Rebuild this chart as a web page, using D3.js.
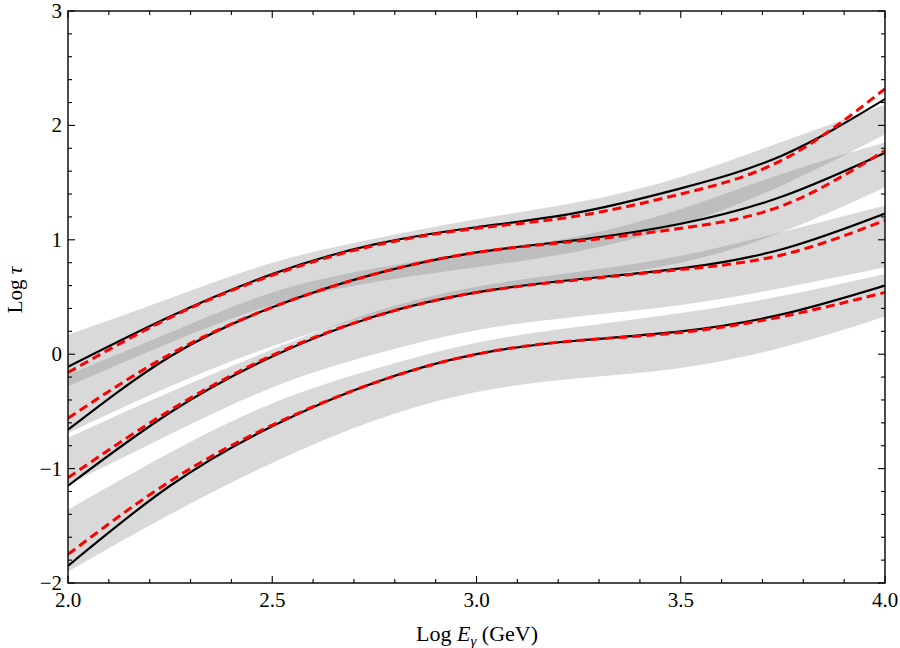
<!DOCTYPE html>
<html>
<head>
<meta charset="utf-8">
<script src="https://cdn.jsdelivr.net/npm/d3@7"></script>
<style>
  html, body { margin: 0; padding: 0; background: #fff; }
  svg { display: block; }
  text { font-family: "Liberation Serif", "DejaVu Serif", serif; fill: #000; }
</style>
</head>
<body>
<svg id="chart" width="900" height="648"></svg>
<script>
// ---- data ----
const logE = [2.0, 2.25, 2.5, 2.75, 3.0, 3.25, 3.5, 3.75, 4.0];

// solid black curves
const solidA = [-0.11, 0.33, 0.70, 0.96, 1.11, 1.24, 1.45, 1.74, 2.23];
const solidB = [-0.66, -0.02, 0.41, 0.70, 0.89, 1.00, 1.14, 1.38, 1.76];
const solidC = [-1.15, -0.51, -0.02, 0.33, 0.54, 0.655, 0.75, 0.92, 1.23];
const solidD = [-1.85, -1.15, -0.63, -0.25, 0.00, 0.12, 0.20, 0.35, 0.60];

// red dashed curves
const dashA = [-0.16, 0.32, 0.69, 0.95, 1.10, 1.21, 1.40, 1.70, 2.32];
const dashB = [-0.56, 0.00, 0.41, 0.70, 0.89, 0.99, 1.10, 1.30, 1.78];
const dashC = [-1.08, -0.49, -0.01, 0.33, 0.54, 0.65, 0.74, 0.87, 1.17];
const dashD = [-1.75, -1.11, -0.62, -0.25, 0.00, 0.12, 0.19, 0.33, 0.54];

// grey bands (upper / lower edges)
const bandAUpper = [0.17, 0.49, 0.80, 1.01, 1.18, 1.33, 1.55, 1.86, 2.18];
const bandALower = [-0.28, 0.10, 0.43, 0.63, 0.76, 0.90, 1.13, 1.48, 1.92];
const bandBUpper = [-0.18, 0.19, 0.54, 0.75, 0.89, 1.03, 1.27, 1.58, 1.85];
const bandBLower = [-0.69, -0.28, 0.07, 0.34, 0.53, 0.66, 0.80, 1.07, 1.46];
const bandCUpper = [-0.73, -0.33, 0.04, 0.37, 0.59, 0.72, 0.86, 1.07, 1.30];
const bandCLower = [-1.14, -0.70, -0.29, 0.00, 0.21, 0.33, 0.43, 0.58, 0.76];
const bandDUpper = [-1.36, -0.86, -0.43, -0.13, 0.10, 0.24, 0.36, 0.51, 0.70];
const bandDLower = [-1.90, -1.40, -0.95, -0.58, -0.33, -0.21, -0.12, 0.06, 0.33];

const xMajorTicks = [2.0, 2.5, 3.0, 3.5, 4.0];
const xTickLabels = ["2.0", "2.5", "3.0", "3.5", "4.0"];
const yMajorTicks = [-2, -1, 0, 1, 2, 3];
const yTickLabels = ["\u22122", "\u22121", "0", "1", "2", "3"];

// ---- layout ----
const W = 900, H = 648;
const margin = { left: 68, right: 15, top: 11, bottom: 65 };
const svg = d3.select("#chart");

const x = d3.scaleLinear().domain([2, 4]).range([margin.left, W - margin.right]);
const y = d3.scaleLinear().domain([-2, 3]).range([H - margin.bottom, margin.top]);

svg.append("defs").append("clipPath").attr("id", "clip")
  .append("rect")
  .attr("x", x(2)).attr("y", y(3))
  .attr("width", x(4) - x(2)).attr("height", y(-2) - y(3));

const plot = svg.append("g").attr("clip-path", "url(#clip)");

const bands = [
  [bandAUpper, bandALower],
  [bandBUpper, bandBLower],
  [bandCUpper, bandCLower],
  [bandDUpper, bandDLower]
];
const area = d3.area()
  .x(d => x(d.x)).y0(d => y(d.lo)).y1(d => y(d.hi))
  .curve(d3.curveNatural);

bands.forEach(([hi, lo]) => {
  const pts = logE.map((v, i) => ({ x: v, hi: hi[i], lo: lo[i] }));
  plot.append("path")
    .attr("d", area(pts))
    .attr("fill", "#808080")
    .attr("fill-opacity", 0.3)
    .attr("stroke", "none");
});

const line = d3.line()
  .x(d => x(d.x)).y(d => y(d.y))
  .curve(d3.curveNatural);

[solidA, solidB, solidC, solidD].forEach(s => {
  plot.append("path")
    .attr("d", line(logE.map((v, i) => ({ x: v, y: s[i] }))))
    .attr("fill", "none").attr("stroke", "#000").attr("stroke-width", 2.2);
});
[dashA, dashB, dashC, dashD].forEach(s => {
  plot.append("path")
    .attr("d", line(logE.map((v, i) => ({ x: v, y: s[i] }))))
    .attr("fill", "none").attr("stroke", "#ff0000").attr("stroke-width", 3)
    .attr("stroke-dasharray", "9,5");
});

// ---- frame & ticks ----
const frame = svg.append("g");
const xMinor = d3.range(2.0, 4.0001, 0.1).map(v => +v.toFixed(2));
const yMinor = d3.range(-2, 3.0001, 0.2).map(v => +v.toFixed(2));
const isMajorX = v => xMajorTicks.some(t => Math.abs(t - v) < 1e-6);
const isMajorY = v => yMajorTicks.some(t => Math.abs(t - v) < 1e-6);

const tickG = frame.append("g").attr("stroke", "#000").attr("stroke-width", 1.1);
xMinor.forEach(v => {
  const len = isMajorX(v) ? 7 : 4;
  tickG.append("line").attr("x1", x(v)).attr("x2", x(v))
    .attr("y1", y(-2)).attr("y2", y(-2) - len);
  tickG.append("line").attr("x1", x(v)).attr("x2", x(v))
    .attr("y1", y(3)).attr("y2", y(3) + len);
});
yMinor.forEach(v => {
  const len = isMajorY(v) ? 7 : 4;
  tickG.append("line").attr("y1", y(v)).attr("y2", y(v))
    .attr("x1", x(2)).attr("x2", x(2) + len);
  tickG.append("line").attr("y1", y(v)).attr("y2", y(v))
    .attr("x1", x(4)).attr("x2", x(4) - len);
});

frame.append("rect")
  .attr("x", x(2)).attr("y", y(3))
  .attr("width", x(4) - x(2)).attr("height", y(-2) - y(3))
  .attr("fill", "none").attr("stroke", "#000").attr("stroke-width", 1.4);

// tick labels
xMajorTicks.forEach((v, i) => {
  svg.append("text").attr("x", x(v)).attr("y", y(-2) + 24)
    .attr("text-anchor", "middle").attr("font-size", 21)
    .text(xTickLabels[i]);
});
yMajorTicks.forEach((v, i) => {
  svg.append("text").attr("x", x(2) - 6).attr("y", y(v) + 7)
    .attr("text-anchor", "end").attr("font-size", 21)
    .text(yTickLabels[i]);
});

// axis titles
const xt = svg.append("text").attr("x", 477).attr("y", 641)
  .attr("text-anchor", "middle").attr("font-size", 22);
xt.append("tspan").text("Log ");
xt.append("tspan").attr("font-style", "italic").text("E");
xt.append("tspan").attr("font-style", "italic").attr("font-size", 15).attr("dy", 5).text("\u03b3");
xt.append("tspan").attr("dy", -5).text(" (GeV)");

const yt = svg.append("text")
  .attr("transform", "translate(22,290) rotate(-90)")
  .attr("text-anchor", "middle").attr("font-size", 21);
yt.append("tspan").text("Log ");
yt.append("tspan").attr("font-style", "italic").text("\u03c4");
</script>
</body>
</html>
